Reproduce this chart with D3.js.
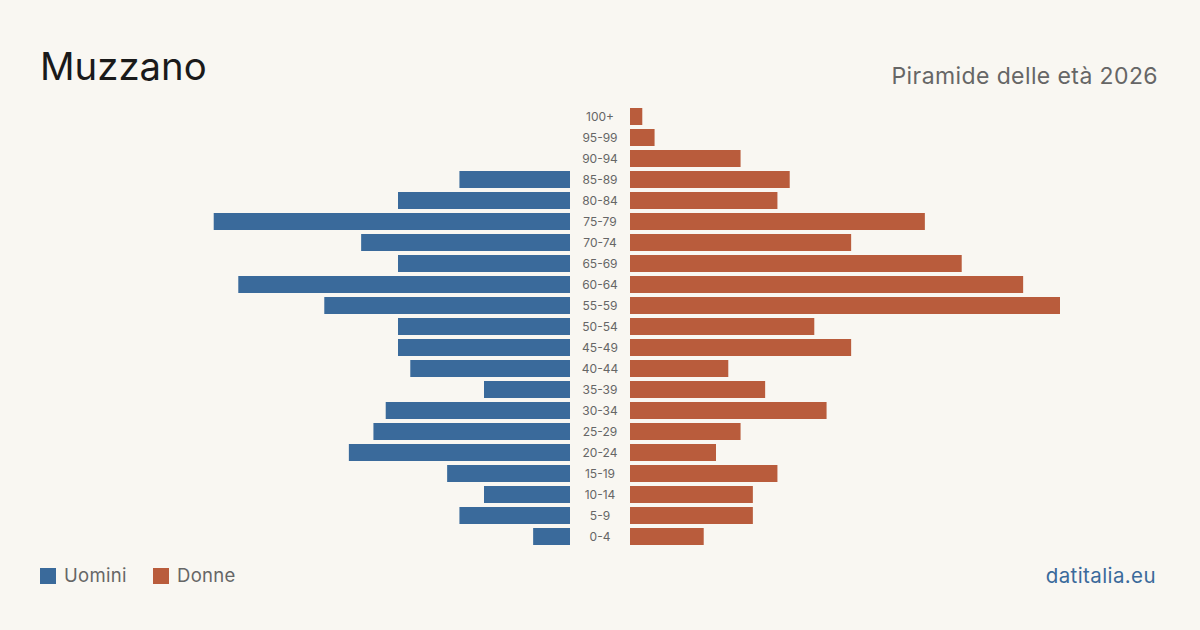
<!DOCTYPE html>
<html><head><meta charset="utf-8">
<script src="https://cdn.jsdelivr.net/npm/d3@7"></script>
<style>
html,body{margin:0;padding:0;background:#f9f7f2;}
svg{display:block;font-family:Inter, "Noto Sans", sans-serif;}
</style></head>
<body><svg id="c" width="1200" height="630"></svg>
<script>
const ageGroups = ["100+","95-99","90-94","85-89","80-84","75-79","70-74","65-69","60-64","55-59","50-54","45-49","40-44","35-39","30-34","25-29","20-24","15-19","10-14","5-9","0-4"];
const men   = [0,0,0,9,14,29,17,14,27,20,14,14,13,7,15,16,18,10,7,9,3];
const women = [1,2,9,13,12,24,18,27,32,35,15,18,8,11,16,9,7,12,10,10,6];
const title = "Muzzano";
const subtitle = "Piramide delle età 2026";
const legendLabels = ["Uomini","Donne"];
const colors = {men:"#3a6a9b", women:"#b95c3c"};

const svg = d3.select("#c");
svg.append("rect").attr("width",1200).attr("height",630).attr("fill","#f9f7f2");

const maxV = 35;
const xW = d3.scaleLinear().domain([0,maxV]).range([630,1060]);
const xM = d3.scaleLinear().domain([0,maxV]).range([570,140]);
const y = d3.scaleBand().domain(ageGroups).range([106,547]).paddingInner(4/21).paddingOuter(2/21);

svg.append("g").selectAll("rect").data(ageGroups).join("rect")
  .attr("x",(d,i)=>xM(men[i])).attr("width",(d,i)=>570-xM(men[i]))
  .attr("y",d=>y(d)).attr("height",y.bandwidth()).attr("fill",colors.men);
svg.append("g").selectAll("rect").data(ageGroups).join("rect")
  .attr("x",630).attr("width",(d,i)=>xW(women[i])-630)
  .attr("y",d=>y(d)).attr("height",y.bandwidth()).attr("fill",colors.women);

svg.append("g").selectAll("text").data(ageGroups).join("text")
  .attr("x",600).attr("y",d=>y(d)+y.bandwidth()/2).attr("dy","0.35em")
  .attr("text-anchor","middle").attr("font-size",12).attr("fill","#666").text(d=>d);

svg.append("text").attr("x",40).attr("y",80).attr("font-size",38.3).attr("fill","#1a1a1a").text(title);
svg.append("text").attr("x",1158).attr("y",84).attr("text-anchor","end").attr("font-size",23).attr("letter-spacing",0.4).attr("fill","#666").text(subtitle);

const lg = svg.append("g");
[[40,colors.men,legendLabels[0]],[153,colors.women,legendLabels[1]]].forEach(([x,c,t])=>{
  lg.append("rect").attr("x",x).attr("y",568).attr("width",16).attr("height",16).attr("fill",c);
  lg.append("text").attr("x",x+24).attr("y",576).attr("dy","0.35em").attr("font-size",18.5).attr("letter-spacing",0.3).attr("fill","#666").text(t);
});
svg.append("text").attr("x",1156).attr("y",576).attr("dy","0.35em").attr("text-anchor","end").attr("font-size",20.5).attr("letter-spacing",0.4).attr("fill","#3a6a9b").text("datitalia.eu");
</script></body></html>
